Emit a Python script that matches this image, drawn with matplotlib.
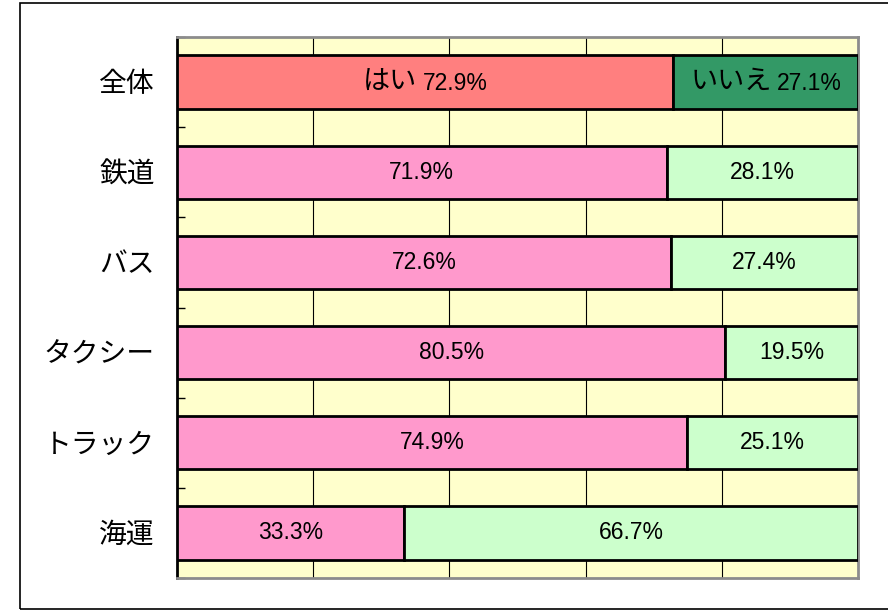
import numpy as np
import matplotlib.pyplot as plt
from matplotlib import font_manager
from matplotlib.patches import Rectangle

plt.rcParams['font.family'] = ['Liberation Sans', 'Noto Sans CJK JP']

# narrow face for the percentages if available
try:
    font_manager.findfont('Liberation Sans Narrow', fallback_to_default=False)
    num_family = ['Liberation Sans Narrow', 'Noto Sans CJK JP']
    num_size = 19
except ValueError:
    num_family = ['Liberation Sans', 'Noto Sans CJK JP']
    num_size = 16.5

categories = ['全体', '鉄道', 'バス', 'タクシー', 'トラック', '海運']
yes_pct = [72.9, 71.9, 72.6, 80.5, 74.9, 33.3]
no_pct = [27.1, 28.1, 27.4, 19.5, 25.1, 66.7]
yes_colors = ['#FF7F7F'] + ['#FF99CC'] * 5
no_colors = ['#339966'] + ['#CCFFCC'] * 5

fig = plt.figure(figsize=(8.88, 6.11), dpi=100)
ax = fig.add_axes([177/888, 1-578/611, (858-177)/888, (578-37)/611])
ax.set_facecolor('#FFFFCC')

# outer frame of the chart area
fig.patches.append(Rectangle((20/888, 2/611), 1.0, 606/611, transform=fig.transFigure,
                             fill=False, edgecolor='#000000', linewidth=1.2))

y = np.arange(len(categories))
h = 0.59
ax.barh(y, yes_pct, height=h, color=yes_colors, edgecolor='black', linewidth=2, zorder=3)
ax.barh(y, no_pct, left=yes_pct, height=h, color=no_colors, edgecolor='black', linewidth=2, zorder=3)

jp_size = 19.5


def label(xc, yc, word, value):
    num = f'{value:.1f}%'
    if not word:
        ax.text(xc, yc, num, ha='center', va='center', fontsize=num_size,
                family=num_family, zorder=4)
        return
    # word and number in two fonts, centred together on the segment
    r = fig.canvas.get_renderer()
    tw = ax.text(0, 0, word, fontsize=jp_size)
    tn = ax.text(0, 0, num, fontsize=num_size, family=num_family)
    ww = tw.get_window_extent(r).width
    wn = tn.get_window_extent(r).width
    tw.remove()
    tn.remove()
    gap = 5
    total = ww + gap + wn
    x0 = -total / 2 * 72 / fig.dpi
    ax.annotate(word, (xc, yc), xytext=(x0, 0), textcoords='offset points',
                ha='left', va='center', fontsize=jp_size, zorder=4)
    ax.annotate(num, (xc, yc), xytext=(x0 + (ww + gap) * 72 / fig.dpi, -1),
                textcoords='offset points', ha='left', va='center',
                fontsize=num_size, family=num_family, zorder=4)


fig.canvas.draw()
for i in range(len(categories)):
    w1, w2 = ('はい', 'いいえ') if i == 0 else ('', '')
    label(yes_pct[i] / 2, y[i], w1, yes_pct[i])
    label(yes_pct[i] + no_pct[i] / 2, y[i], w2, no_pct[i])

ax.set_xlim(0, 100)
ax.set_ylim(len(categories)-0.5, -0.5)
ax.set_xticks([20, 40, 60, 80])
ax.set_xticklabels([])
ax.tick_params(axis='x', length=0)
ax.grid(axis='x', color='black', linewidth=0.8, zorder=1)

ax.set_yticks(y)
ax.set_yticklabels(categories, fontsize=20)
ax.tick_params(axis='y', which='major', length=0, pad=16)
ax.set_yticks(np.arange(-0.5, len(categories)), minor=True)
ax.tick_params(axis='y', which='minor', direction='in', length=6, width=1, color='black')

for side in ['top', 'right', 'bottom']:
    ax.spines[side].set_color('#8C8C8C')
    ax.spines[side].set_linewidth(2)
ax.spines['left'].set_color('black')
ax.spines['left'].set_linewidth(2)

fig.savefig('out.png', dpi=100)
